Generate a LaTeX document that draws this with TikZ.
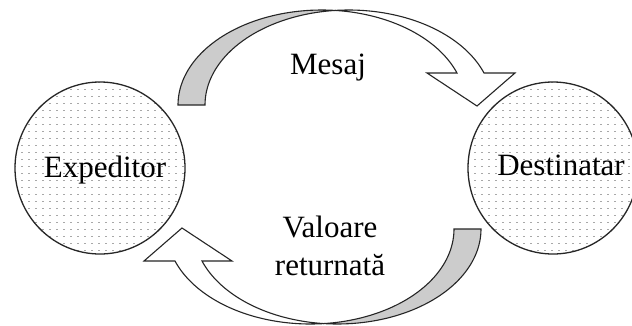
\documentclass[tikz,border=0pt]{standalone}
\usepackage{fontspec}
\setmainfont{Liberation Serif}
\usetikzlibrary{shapes.geometric}
\definecolor{dotc}{gray}{0.66}
\definecolor{backc}{gray}{0.80}
\definecolor{edgec}{gray}{0.15}
\newcommand\myribbon{%
  \filldraw[face, fill=backc]
    plot[domain=180:275.39, samples=50] ({321.7+143.7*cos(\x)},{105+95*sin(\x)})
    -- plot[domain=264.61:180, samples=50] ({348.7+143.7*cos(\x)},{105+95*sin(\x)})
    -- cycle;
  \filldraw[face, fill=white]
    plot[domain=264.61:340.31, samples=80] ({348.7+143.7*cos(\x)},{105+95*sin(\x)})
    -- (515,73) -- (477,106) -- (427,73)
    -- plot[domain=340.31:275.39, samples=60] ({321.7+143.7*cos(\x)},{105+95*sin(\x)})
    -- cycle;
}
\begin{document}
\begin{tikzpicture}[x=1pt,y=-1pt,
  party/.style={draw=edgec, line width=1.3pt, ellipse, minimum width=170pt, minimum height=172pt, inner sep=0pt},
  lbl/.style={font=\fontsize{31}{38}\selectfont, text=black, inner sep=0pt},
  face/.style={draw=edgec, line width=1.1pt, line join=miter},
  ]
\useasboundingbox (0,0) rectangle (632,325);
\fill[white] (0,0) rectangle (632,325);

% dotted fill of the two parties
\foreach \cx in {100,553} {
  \begin{scope}
    \clip (\cx,168) ellipse [x radius=85, y radius=86];
    \foreach \i in {0,...,25} {
      \foreach \j in {0,...,25} {
        \fill[dotc] ({\cx-86+\i*7},{82+\j*7}) rectangle ++(2.2,1.3);
      }
    }
  \end{scope}
}
\node[party] (expeditor) at (100,168) {};
\node[party] (destinatar) at (553,168) {};

% curved block arrows
\myribbon
\begin{scope}[rotate around={180:(329.5,167)}]
  \myribbon
\end{scope}

% labels
\node[lbl, anchor=base] (texp) at (105,177) {Expeditor};
\node[lbl, anchor=base] (tdest) at (561,175) {Destinatar};
\node[lbl, anchor=base] (mesaj) at (328,74) {Mesaj};
\node[lbl, align=center] (valoare) at (330,246) {Valoare\\returnată};
\end{tikzpicture}
\end{document}
